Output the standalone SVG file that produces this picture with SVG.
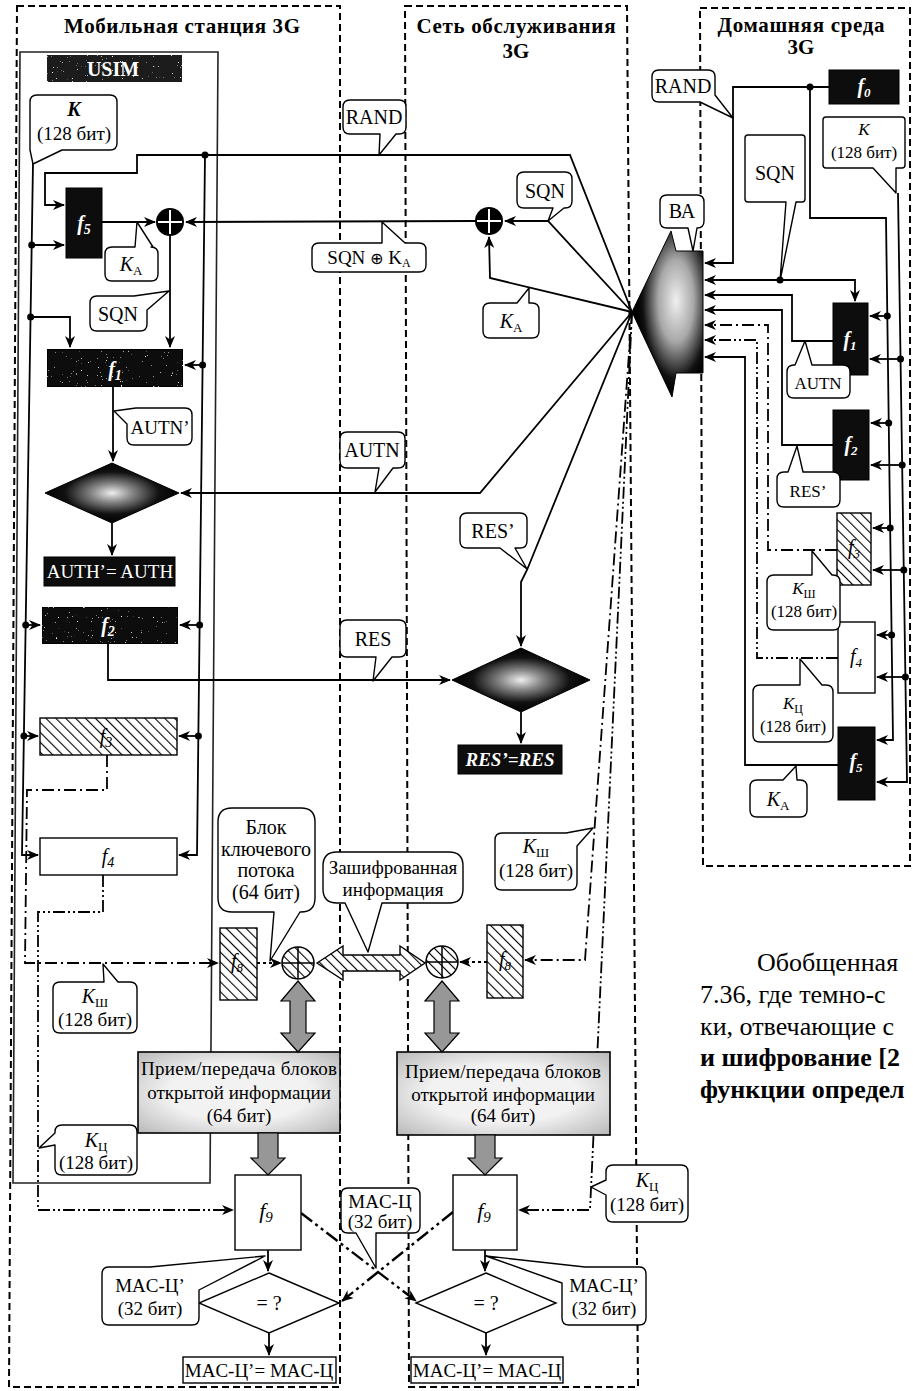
<svg xmlns="http://www.w3.org/2000/svg" width="913" height="1391" viewBox="0 0 913 1391">
<defs>
<style>
.ln{fill:none;stroke:#000;stroke-width:1.8}
.fr{fill:none;stroke:#000;stroke-width:2;stroke-dasharray:7 4}
.us{fill:none;stroke:#222;stroke-width:1.6}
.dd{fill:none;stroke:#000;stroke-width:1.8;stroke-dasharray:12 4 2 4}
.d3{fill:none;stroke:#000;stroke-width:1.8;stroke-dasharray:12 3 2 3 2 3}
.dt{fill:none;stroke:#000;stroke-width:1.8;stroke-dasharray:3 3}
.dx{fill:none;stroke:#000;stroke-width:2.4;stroke-dasharray:14 4 3 4 3 4}
.co{fill:#fff;stroke:#000;stroke-width:1.4;stroke-linejoin:round}
.bk{fill:#0d0d0d;stroke:#000;stroke-width:1}
.wb{fill:#fff;stroke:#000;stroke-width:1.4}
.ht{fill:url(#hatch);stroke:#000;stroke-width:1.4}
.gy{fill:#979797;stroke:#000;stroke-width:1.2}
.pr{fill:url(#pg);stroke:#000;stroke-width:1.6}
.dot{fill:#000}
.t{font-family:"Liberation Serif","Times New Roman",serif;font-size:20px;fill:#000;text-anchor:middle}
.m{font-size:19px}
.s{font-size:17px}
.i{font-style:italic}
.b{font-weight:bold}
.w{fill:#fff}
.hd{font-family:"Liberation Serif","Times New Roman",serif;font-size:21px;font-weight:bold;text-anchor:middle;fill:#000}
.pa{font-family:"Liberation Serif","Times New Roman",serif;font-size:26px;fill:#000}
</style>
<marker id="ar" viewBox="0 0 12 10" refX="11" refY="5" markerWidth="12" markerHeight="10" markerUnits="userSpaceOnUse" orient="auto"><path d="M0,0 L12,5 L0,10 L3.5,5 Z" fill="#000"/></marker>
<pattern id="hatch" width="7" height="7" patternUnits="userSpaceOnUse" patternTransform="rotate(-45)"><rect width="7" height="7" fill="#fff"/><line x1="0" y1="0" x2="0" y2="7" stroke="#000" stroke-width="2.2"/></pattern>
<radialGradient id="bag" cx="0.62" cy="0.42" r="0.55"><stop offset="0" stop-color="#f0f0f0"/><stop offset="0.45" stop-color="#a8a8a8"/><stop offset="0.85" stop-color="#111"/><stop offset="1" stop-color="#000"/></radialGradient>
<radialGradient id="dg" cx="0.5" cy="0.5" r="0.5"><stop offset="0" stop-color="#eee"/><stop offset="0.3" stop-color="#888"/><stop offset="0.7" stop-color="#111"/><stop offset="1" stop-color="#000"/></radialGradient>
<radialGradient id="pg" cx="0.5" cy="0.5" r="0.7"><stop offset="0.5" stop-color="#f2f2f2"/><stop offset="1" stop-color="#b9b9b9"/></radialGradient>
<filter id="spk" x="0" y="0" width="1" height="1">
<feTurbulence type="fractalNoise" baseFrequency="0.8" numOctaves="2" seed="4" result="n"/>
<feColorMatrix in="n" type="matrix" values="0 0 0 0 1  0 0 0 0 1  0 0 0 0 1  10 0 0 0 -7.4" result="s"/>
<feComposite in="s" in2="SourceGraphic" operator="in" result="s2"/>
<feMerge><feMergeNode in="SourceGraphic"/><feMergeNode in="s2"/></feMerge>
</filter>
</defs>
<rect width="913" height="1391" fill="#fff"/>

<g id="frames">
<path class="fr" d="M17,6 L340,6 L340,1387 L9,1387 Z"/>
<path class="fr" d="M405,6 L627,6 L638,1387 L409,1387 Z"/>
<path class="fr" d="M700,8 L910,8 L910,866 L703,866 Z"/>
<path class="us" d="M20,52 L218,52 L210,1183 L13,1183 Z"/>
<text class="hd" x="182" y="33" textLength="236">Мобильная станция 3G</text>
<text class="hd" x="516" y="33" textLength="199">Сеть обслуживания</text>
<text class="hd" x="516" y="58">3G</text>
<text class="hd" x="801" y="32" textLength="167">Домашняя среда</text>
<text class="hd" x="801" y="54">3G</text>
<rect x="47" y="55" width="135" height="27" fill="#1a1a1a" filter="url(#spk)"/>
<text class="t b w" x="113" y="76">USIM</text>
</g>

<g id="connectors">
<path class="ln" d="M632,312 L570,155 L137,155 L137,173 L45,173 L45,205 L64,205" marker-end="url(#ar)"/>
<path class="ln" d="M205,155 L197,855 L179,855" marker-end="url(#ar)"/>
<path class="ln" d="M202.6,365 L185,365" marker-end="url(#ar)"/>
<path class="ln" d="M199.6,625 L180,625" marker-end="url(#ar)"/>
<path class="ln" d="M198.4,736 L179,736" marker-end="url(#ar)"/>
<path class="ln" d="M33,163 L22,855 L38,855" marker-end="url(#ar)"/>
<path class="ln" d="M31.7,245 L64,245" marker-end="url(#ar)"/>
<path class="ln" d="M30.6,317 L70,317 L70,347" marker-end="url(#ar)"/>
<path class="ln" d="M25.7,625 L40,625" marker-end="url(#ar)"/>
<path class="ln" d="M23.9,736 L38,736" marker-end="url(#ar)"/>
<path class="ln" d="M102,222 L155,222" marker-end="url(#ar)"/>
<path class="ln" d="M475,221 L186,222" marker-end="url(#ar)"/>
<path class="ln" d="M170,236 L170,347" marker-end="url(#ar)"/>
<path class="ln" d="M113,387 L113,461" marker-end="url(#ar)"/>
<path class="ln" d="M112,523 L112,555" marker-end="url(#ar)"/>
<path class="ln" d="M632,312 L480,493 L181,493" marker-end="url(#ar)"/>
<path class="ln" d="M108,644 L108,680 L450,680" marker-end="url(#ar)"/>
<path class="dd" d="M107,755 L107,790 L27,790 L25,963 L218,963" marker-end="url(#ar)"/>
<path class="d3" d="M103,875 L103,912 L38,912 L38,1210 L233,1210" marker-end="url(#ar)"/>
<path class="dt" d="M257,963 L281,963" marker-end="url(#ar)"/>
<path class="ln" d="M632,312 L548,221 L505,221" marker-end="url(#ar)"/>
<path class="ln" d="M632,312 L490,278 L489,237" marker-end="url(#ar)"/>
<path class="ln" d="M632,312 L527,570 L521,582 L521,646" marker-end="url(#ar)"/>
<path class="ln" d="M521,712 L521,743" marker-end="url(#ar)"/>
<path class="dd" d="M632,312 L585,960 L525,960" marker-end="url(#ar)"/>
<path class="dt" d="M487,962 L460,962" marker-end="url(#ar)"/>
<path class="d3" d="M632,312 L590,1210 L519,1210" marker-end="url(#ar)"/>
<path class="dx" d="M301,1213 L416,1301" marker-end="url(#ar)"/>
<path class="dx" d="M453,1212 L342,1301" marker-end="url(#ar)"/>
<path class="ln" d="M268,1250 L268,1271" marker-end="url(#ar)"/>
<path class="ln" d="M485,1250 L485,1271" marker-end="url(#ar)"/>
<path class="ln" d="M269,1333 L269,1355" marker-end="url(#ar)"/>
<path class="ln" d="M486,1333 L486,1355" marker-end="url(#ar)"/>
<path class="ln" d="M829,87 L733,87 L733,263 L705,263" marker-end="url(#ar)"/>
<path class="ln" d="M810,87 L810,218 L886,218 L893,740 L877,740" marker-end="url(#ar)"/>
<path class="ln" d="M887.3,316 L870,316" marker-end="url(#ar)"/>
<path class="ln" d="M888.7,423 L871,423" marker-end="url(#ar)"/>
<path class="ln" d="M890.2,528 L873,528" marker-end="url(#ar)"/>
<path class="ln" d="M891.6,635 L877,635" marker-end="url(#ar)"/>
<path class="ln" d="M898,193 L907,782 L877,782" marker-end="url(#ar)"/>
<path class="ln" d="M900.5,359 L870,359" marker-end="url(#ar)"/>
<path class="ln" d="M902.2,465 L871,465" marker-end="url(#ar)"/>
<path class="ln" d="M903.8,570 L873,570" marker-end="url(#ar)"/>
<path class="ln" d="M905.4,677 L877,677" marker-end="url(#ar)"/>
<path class="ln" d="M780,280 L705,280" marker-end="url(#ar)"/>
<path class="ln" d="M780,280 L855,280 L855,301" marker-end="url(#ar)"/>
<path class="ln" d="M833,341 L792,341 L792,295 L705,295" marker-end="url(#ar)"/>
<path class="ln" d="M833,445 L782,445 L782,310 L705,310" marker-end="url(#ar)"/>
<path class="dd" d="M837,550 L768,550 L768,325 L705,325" marker-end="url(#ar)"/>
<path class="d3" d="M838,658 L757,658 L757,340 L705,340" marker-end="url(#ar)"/>
<path class="ln" d="M838,765 L745,765 L745,357 L705,357" marker-end="url(#ar)"/>
<circle class="dot" cx="205" cy="155" r="3.5"/>
<circle class="dot" cx="202.6" cy="365" r="3.5"/>
<circle class="dot" cx="199.6" cy="625" r="3.5"/>
<circle class="dot" cx="198.4" cy="736" r="3.5"/>
<circle class="dot" cx="31.7" cy="245" r="3.5"/>
<circle class="dot" cx="30.6" cy="317" r="3.5"/>
<circle class="dot" cx="25.7" cy="625" r="3.5"/>
<circle class="dot" cx="23.9" cy="736" r="3.5"/>
<circle class="dot" cx="810" cy="87" r="3.5"/>
<circle class="dot" cx="780" cy="280" r="3.5"/>
<circle class="dot" cx="887.3" cy="316" r="3.5"/>
<circle class="dot" cx="888.7" cy="423" r="3.5"/>
<circle class="dot" cx="890.2" cy="528" r="3.5"/>
<circle class="dot" cx="891.6" cy="635" r="3.5"/>
<circle class="dot" cx="900.5" cy="359" r="3.5"/>
<circle class="dot" cx="902.2" cy="465" r="3.5"/>
<circle class="dot" cx="903.8" cy="570" r="3.5"/>
<circle class="dot" cx="905.4" cy="677" r="3.5"/>
</g>

<g id="ms-f5"><rect class="bk" x="66" y="188" width="36" height="70"/><text class="t i b w" x="84" y="230">f<tspan font-size="14" dy="4">5</tspan></text></g>
<g id="ms-xor1"><circle cx="170" cy="222" r="14" fill="#000"/><path d="M158,222 H182 M170,210 V234" stroke="#fff" stroke-width="2"/></g>
<g id="ms-f1"><rect class="bk" x="47" y="349" width="136" height="38" filter="url(#spk)"/><text class="t i b w" x="115" y="376">f<tspan font-size="14" dy="4">1</tspan></text></g>
<g id="ms-cmp1"><polygon points="112,463 179,493 112,523 45,493" fill="url(#dg)" stroke="#000"/></g>
<g id="ms-auth"><rect class="bk" x="44" y="557" width="131" height="29"/><text class="t m w" x="110" y="578">AUTH’= AUTH</text></g>
<g id="ms-f2"><rect class="bk" x="42" y="607" width="136" height="37" filter="url(#spk)"/><text class="t i b w" x="108" y="632">f<tspan font-size="14" dy="4">2</tspan></text></g>
<g id="ms-f3"><rect class="ht" x="40" y="718" width="137" height="37"/><text class="t i" x="106" y="743">f<tspan font-size="14" dy="4">3</tspan></text></g>
<g id="ms-f4"><rect class="wb" x="40" y="838" width="137" height="37"/><text class="t i" x="108" y="863">f<tspan font-size="14" dy="4">4</tspan></text></g>
<g id="ms-f8"><rect class="ht" x="220" y="928" width="37" height="72"/><text class="t i" x="237" y="968">f<tspan font-size="13" dy="4">8</tspan></text></g>
<g id="ms-xor2"><circle cx="298" cy="963" r="16" fill="url(#hatch)" stroke="#000" stroke-width="1.5"/><path d="M282,963 H314 M298,947 V979" stroke="#000" stroke-width="1.5"/></g>
<g id="ms-io"><rect class="pr" x="138" y="1052" width="202" height="81"/>
<text class="t m" x="239" y="1075" textLength="196">Прием/передача блоков</text>
<text class="t m" x="239" y="1099">открытой информации</text>
<text class="t m" x="239" y="1122">(64 бит)</text></g>
<g id="ms-f9"><rect class="wb" x="235" y="1175" width="66" height="75"/><text class="t i" x="266" y="1218" style="font-size:22px">f<tspan font-size="15" dy="4">9</tspan></text></g>
<g id="ms-cmp2"><polygon points="269,1273 339,1303 269,1333 199,1303" fill="#fff" stroke="#000" stroke-width="1.4"/><text class="t" x="269" y="1310">= ?</text></g>
<g id="ms-mac"><rect class="wb" x="183" y="1357" width="153" height="26"/><text class="t m" x="259" y="1377">MAC-Ц’= MAC-Ц</text></g>

<g id="sn-xor1"><circle cx="489" cy="221" r="14" fill="#000"/><path d="M477,221 H501 M489,209 V233" stroke="#fff" stroke-width="2"/></g>
<g id="sn-cmp1"><polygon points="521,648 590,680 521,712 452,680" fill="url(#dg)" stroke="#000"/></g>
<g id="sn-res"><rect class="bk" x="458" y="745" width="104" height="29"/><text class="t m i b w" x="510" y="766">RES’=RES</text></g>
<g id="sn-xor2"><circle cx="442" cy="962" r="16" fill="url(#hatch)" stroke="#000" stroke-width="1.5"/><path d="M426,962 H458 M442,946 V978" stroke="#000" stroke-width="1.5"/></g>
<g id="sn-f8"><rect class="ht" x="487" y="925" width="36" height="73"/><text class="t i" x="505" y="966">f<tspan font-size="13" dy="4">8</tspan></text></g>
<g id="sn-io"><rect class="pr" x="397" y="1052" width="213" height="83"/>
<text class="t m" x="503" y="1078" textLength="196">Прием/передача блоков</text>
<text class="t m" x="503" y="1101">открытой информации</text>
<text class="t m" x="503" y="1122">(64 бит)</text></g>
<g id="sn-f9"><rect class="wb" x="453" y="1175" width="64" height="75"/><text class="t i" x="484" y="1218" style="font-size:22px">f<tspan font-size="15" dy="4">9</tspan></text></g>
<g id="sn-cmp2"><polygon points="486,1273 556,1303 486,1333 416,1303" fill="#fff" stroke="#000" stroke-width="1.4"/><text class="t" x="486" y="1310">= ?</text></g>
<g id="sn-mac"><rect class="wb" x="411" y="1357" width="152" height="26"/><text class="t m" x="487" y="1377">MAC-Ц’= MAC-Ц</text></g>

<g id="arrows-io">
<polygon class="gy" points="298,981 315,1001 306,1001 306,1033 315,1033 298,1052 281,1033 290,1033 290,1001 281,1001"/>
<polygon class="gy" points="442,981 459,1001 450,1001 450,1033 459,1033 442,1052 425,1033 434,1033 434,1001 425,1001"/>
<polygon class="gy" points="258,1133 278,1133 278,1158 285,1158 268,1175 251,1158 258,1158"/>
<polygon class="gy" points="475,1135 495,1135 495,1158 502,1158 485,1175 468,1158 475,1158"/>
<polygon class="ht" points="317,963 343,946 343,955 400,955 400,946 425,963 400,980 400,971 343,971 343,980"/>
</g>

<g id="he-f0"><rect class="bk" x="829" y="70" width="70" height="34"/><text class="t i b w" x="864" y="93">f<tspan font-size="13" dy="4">0</tspan></text></g>
<g id="he-ba"><polygon points="632,312 671,231 676,251 703,251 703,373 676,373 672,397" fill="url(#bag)" stroke="#000"/></g>
<g id="he-f1"><rect class="bk" x="833" y="303" width="35" height="72"/><text class="t i b w" x="850" y="346">f<tspan font-size="13" dy="4">1</tspan></text></g>
<g id="he-f2"><rect class="bk" x="833" y="410" width="36" height="70"/><text class="t i b w" x="851" y="451">f<tspan font-size="13" dy="4">2</tspan></text></g>
<g id="he-f3"><rect class="ht" x="837" y="513" width="34" height="72"/><text class="t i" x="854" y="554">f<tspan font-size="13" dy="4">3</tspan></text></g>
<g id="he-f4"><rect class="wb" x="838" y="622" width="37" height="71"/><text class="t i" x="856" y="663">f<tspan font-size="13" dy="4">4</tspan></text></g>
<g id="he-f5"><rect class="bk" x="838" y="727" width="37" height="73"/><text class="t i b w" x="856" y="768">f<tspan font-size="13" dy="4">5</tspan></text></g>

<g id="callouts">
<g id="c-k-ms"><path class="co" d="M37,95 H110 Q117,95 117,102 V143 Q117,150 110,150 H62 L33,164 L30,150 V102 Q30,95 37,95 Z"/><text class="t i b" x="74" y="116">K</text><text class="t m" x="74" y="140">(128 бит)</text></g>
<g id="c-ka-ms"><path class="co" d="M112,247 H135 L137,222 L153,247 H151 Q158,247 158,254 V274 Q158,281 151,281 H112 Q105,281 105,274 V254 Q105,247 112,247 Z"/><text class="t" x="131" y="271"><tspan class="i">K</tspan><tspan font-size="13" dy="4">A</tspan></text></g>
<g id="c-sqn-ms"><path class="co" d="M97,296 H134 L169,291 L147,310 V324 Q147,331 140,331 H97 Q90,331 90,324 V303 Q90,296 97,296 Z"/><text class="t" x="118" y="321">SQN</text></g>
<g id="c-autn1"><path class="co" d="M140,408 H185 Q192,408 192,415 V438 Q192,445 185,445 H134 Q127,445 127,438 V424 L114,411 L136,408 Z"/><text class="t m" x="160" y="434">AUTN’</text></g>
<g id="c-rand-sn"><path class="co" d="M350,100 H399 Q406,100 406,107 V127 Q406,134 399,134 H396 L379,155 L380,134 H350 Q343,134 343,127 V107 Q343,100 350,100 Z"/><text class="t" x="374" y="124">RAND</text></g>
<g id="c-sqnka"><path class="co" d="M319,243 H382 L382,222 L405,243 H419 Q426,243 426,250 V265 Q426,272 419,272 H319 Q312,272 312,265 V250 Q312,243 319,243 Z"/><text class="t m" x="369" y="264">SQN <tspan font-family="DejaVu Sans" font-size="16">⊕</tspan> K<tspan font-size="12" dy="3">A</tspan></text></g>
<g id="c-sqn-sn"><path class="co" d="M524,172 H565 Q572,172 572,179 V201 Q572,208 565,208 H564 L548,221 L553,208 H524 Q517,208 517,201 V179 Q517,172 524,172 Z"/><text class="t" x="545" y="198">SQN</text></g>
<g id="c-ka-sn"><path class="co" d="M490,303 H517 L529,288 L529,303 H532 Q539,303 539,310 V331 Q539,338 532,338 H490 Q483,338 483,331 V310 Q483,303 490,303 Z"/><text class="t" x="511" y="328"><tspan class="i">K</tspan><tspan font-size="13" dy="4">A</tspan></text></g>
<g id="c-autn-sn"><path class="co" d="M347,432 H398 Q405,432 405,439 V461 Q405,468 398,468 H393 L375,492 L379,468 H347 Q340,468 340,461 V439 Q340,432 347,432 Z"/><text class="t" x="372" y="457">AUTN</text></g>
<g id="c-res1-sn"><path class="co" d="M467,513 H520 Q527,513 527,520 V541 Q527,548 520,548 H515 L527,569 L500,548 H467 Q460,548 460,541 V520 Q460,513 467,513 Z"/><text class="t" x="493" y="538">RES’</text></g>
<g id="c-res"><path class="co" d="M347,620 H399 Q406,620 406,627 V650 Q406,657 399,657 H392 L373,681 L376,657 H347 Q340,657 340,650 V627 Q340,620 347,620 Z"/><text class="t" x="373" y="646">RES</text></g>
<g id="c-keystream"><path class="co" d="M232,808 H301 Q315,808 315,822 V898 Q315,912 301,912 H300 L270,961 L274,912 H232 Q218,912 218,898 V822 Q218,808 232,808 Z"/><text class="t" x="266" y="834">Блок</text><text class="t" x="266" y="856">ключевого</text><text class="t" x="266" y="877">потока</text><text class="t" x="266" y="899">(64 бит)</text></g>
<g id="c-cipher"><path class="co" d="M337,852 H449 Q463,852 463,866 V889 Q463,903 449,903 H382 L368,952 L345,903 H337 Q323,903 323,889 V866 Q323,852 337,852 Z"/><text class="t m" x="393" y="874">Зашифрованная</text><text class="t m" x="393" y="896">информация</text></g>
<g id="c-ksh-sn"><path class="co" d="M502,833 H566 L593,828 L577,846 V883 Q577,890 570,890 H502 Q495,890 495,883 V840 Q495,833 502,833 Z"/><text class="t" x="536" y="853"><tspan class="i">K</tspan><tspan font-size="13" dy="4">Ш</tspan></text><text class="t m" x="536" y="877">(128 бит)</text></g>
<g id="c-ksh-ms"><path class="co" d="M60,982 H104 L103,964 L118,982 H130 Q137,982 137,989 V1026 Q137,1033 130,1033 H60 Q53,1033 53,1026 V989 Q53,982 60,982 Z"/><text class="t" x="95" y="1003"><tspan class="i">K</tspan><tspan font-size="13" dy="4">Ш</tspan></text><text class="t m" x="95" y="1026">(128 бит)</text></g>
<g id="c-kc-ms"><path class="co" d="M62,1125 H130 Q137,1125 137,1132 V1168 Q137,1175 130,1175 H62 Q55,1175 55,1168 V1145 L39,1148 L55,1133 V1132 Q55,1125 62,1125 Z"/><text class="t" x="96" y="1147"><tspan class="i">K</tspan><tspan font-size="13" dy="4">Ц</tspan></text><text class="t m" x="96" y="1169">(128 бит)</text></g>
<g id="c-mac1-ms"><path class="co" d="M109,1267 H150 L265,1256 L199,1290 V1318 Q199,1325 192,1325 H109 Q102,1325 102,1318 V1274 Q102,1267 109,1267 Z"/><text class="t m" x="150" y="1292">MAC-Ц’</text><text class="t m" x="150" y="1315">(32 бит)</text></g>
<g id="c-mac"><path class="co" d="M348,1188 H413 Q420,1188 420,1195 V1226 Q420,1233 413,1233 H376 L376,1268 L356,1233 H348 Q341,1233 341,1226 V1195 Q341,1188 348,1188 Z"/><text class="t m" x="380" y="1208">MAC-Ц</text><text class="t m" x="380" y="1228">(32 бит)</text></g>
<g id="c-mac1-sn"><path class="co" d="M585,1267 H639 Q646,1267 646,1274 V1318 Q646,1325 639,1325 H569 Q562,1325 562,1318 V1283 L486,1256 Z"/><text class="t m" x="604" y="1292">MAC-Ц’</text><text class="t m" x="604" y="1315">(32 бит)</text></g>
<g id="c-kc-sn"><path class="co" d="M613,1165 H681 Q688,1165 688,1172 V1215 Q688,1222 681,1222 H613 Q606,1222 606,1215 V1195 L591,1187 L606,1180 V1172 Q606,1165 613,1165 Z"/><text class="t" x="647" y="1187"><tspan class="i">K</tspan><tspan font-size="13" dy="4">Ц</tspan></text><text class="t m" x="647" y="1211">(128 бит)</text></g>
<g id="c-rand-he"><path class="co" d="M659,70 H708 Q715,70 715,77 V95 L733,118 L700,102 H659 Q652,102 652,95 V77 Q652,70 659,70 Z"/><text class="t" x="683" y="93">RAND</text></g>
<g id="c-ba"><path class="co" d="M667,195 H697 Q704,195 704,202 V221 Q704,228 697,228 L693,251 L688,228 H667 Q660,228 660,221 V202 Q660,195 667,195 Z"/><text class="t" x="682" y="218">ВА</text></g>
<g id="c-sqn-he"><path class="co" d="M748,135 H802 Q805,135 805,138 V199 Q805,202 802,202 H796 L780,281 L786,202 H748 Q745,202 745,199 V138 Q745,135 748,135 Z"/><text class="t" x="775" y="180">SQN</text></g>
<g id="c-k-he"><path class="co" d="M826,117 H902 Q905,117 905,120 V165 Q905,168 902,168 H896 L896,193 L873,168 H826 Q823,168 823,165 V120 Q823,117 826,117 Z"/><text class="t s i" x="864" y="135">K</text><text class="t s" x="864" y="158">(128 бит)</text></g>
<g id="c-autn-he"><path class="co" d="M794,365 H795 L805,341 L812,365 H843 Q850,365 850,372 V391 Q850,398 843,398 H794 Q787,398 787,391 V372 Q787,365 794,365 Z"/><text class="t s" x="818" y="389">AUTN</text></g>
<g id="c-res-he"><path class="co" d="M784,472 H788 L797,446 L803,472 H833 Q840,472 840,479 V500 Q840,507 833,507 H784 Q777,507 777,500 V479 Q777,472 784,472 Z"/><text class="t s" x="808" y="497">RES’</text></g>
<g id="c-ksh-he"><path class="co" d="M774,575 H812 L812,551 L832,575 H833 Q840,575 840,582 V623 Q840,630 833,630 H774 Q767,630 767,623 V582 Q767,575 774,575 Z"/><text class="t s" x="804" y="594"><tspan class="i">K</tspan><tspan font-size="12" dy="4">Ш</tspan></text><text class="t s" x="804" y="617">(128 бит)</text></g>
<g id="c-kc-he"><path class="co" d="M760,685 H800 L800,659 L822,685 H826 Q833,685 833,692 V735 Q833,742 826,742 H760 Q753,742 753,735 V692 Q753,685 760,685 Z"/><text class="t s" x="793" y="709"><tspan class="i">K</tspan><tspan font-size="12" dy="4">Ц</tspan></text><text class="t s" x="793" y="732">(128 бит)</text></g>
<g id="c-ka-he"><path class="co" d="M757,780 H783 L796,766 L797,780 H800 Q807,780 807,787 V810 Q807,817 800,817 H757 Q750,817 750,810 V787 Q750,780 757,780 Z"/><text class="t" x="778" y="806"><tspan class="i">K</tspan><tspan font-size="13" dy="4">A</tspan></text></g>
</g>

<g id="paragraph">
<text class="pa" x="757" y="971">Обобщенная</text>
<text class="pa" x="700" y="1003">7.36, где темно-с</text>
<text class="pa" x="700" y="1035">ки, отвечающие с</text>
<text class="pa b" x="700" y="1066">и шифрование [2</text>
<text class="pa b" x="700" y="1098">функции определ</text>
</g>
</svg>
